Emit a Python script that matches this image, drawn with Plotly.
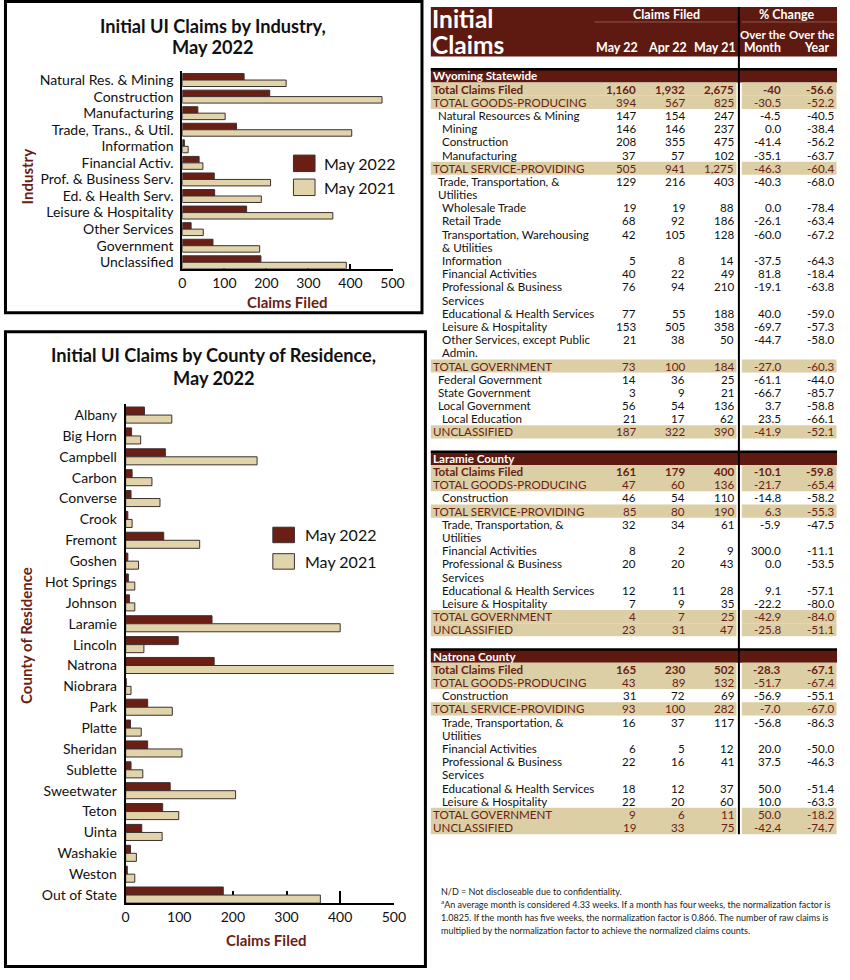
import plotly.graph_objects as go

W, H = 850, 980
def px(x):
    return x / W
def py(y):
    return 1 - y / H

FONT = "Lato"
MAROON = "#6A1E14"
BEIGE = "#E2D4AA"
HEAD = "#5E1A10"
TBEIGE = "#DCCEA5"
TXT_M = "#6A1E14"
OUTL = "#3A3030"

series_names = ["May 2022", "May 2021"]

# ---------------- Industry chart data ----------------
industries = ["Natural Res. & Mining", "Construction", "Manufacturing", "Trade, Trans., & Util.",
              "Information", "Financial Activ.", "Prof. & Business Serv.", "Ed. & Health Serv.",
              "Leisure & Hospitality", "Other Services", "Government", "Unclassified"]
ind_2022 = [147, 208, 37, 129, 5, 40, 76, 77, 153, 21, 73, 187]
ind_2021 = [247, 475, 102, 403, 14, 49, 210, 188, 358, 50, 184, 390]

# ---------------- County chart data ----------------
counties = ["Albany", "Big Horn", "Campbell", "Carbon", "Converse", "Crook", "Fremont", "Goshen",
            "Hot Springs", "Johnson", "Laramie", "Lincoln", "Natrona", "Niobrara", "Park", "Platte",
            "Sheridan", "Sublette", "Sweetwater", "Teton", "Uinta", "Washakie", "Weston", "Out of State"]
cty_2022 = [35, 11, 74, 12, 10, 4, 71, 4, 5, 7, 161, 98, 165, 1, 41, 9, 41, 10, 83, 69, 30, 9, 3, 182]
cty_2021 = [86, 28, 245, 49, 64, 12, 138, 24, 17, 17, 400, 34, 502, 10, 87, 29, 105, 32, 205, 99, 68, 20, 17, 363]

x_ticks = [0, 100, 200, 300, 400, 500]

# ---------------- Table data ----------------
col_heads = ["May 22", "Apr 22", "May 21"]

wy_labels = ["Total Claims Filed", "TOTAL GOODS-PRODUCING", "Natural Resources & Mining", "Mining",
             "Construction", "Manufacturing", "TOTAL SERVICE-PROVIDING", "Trade, Transportation, &\nUtilities",
             "Wholesale Trade", "Retail Trade", "Transportation, Warehousing\n& Utilities", "Information",
             "Financial Activities", "Professional & Business\nServices", "Educational & Health Services",
             "Leisure & Hospitality", "Other Services, except Public\nAdmin.", "TOTAL GOVERNMENT",
             "Federal Government", "State Government", "Local Government", "Local Education", "UNCLASSIFIED"]
wy_may22 = ["1,160", "394", "147", "146", "208", "37", "505", "129", "19", "68", "42", "5", "40", "76", "77",
            "153", "21", "73", "14", "3", "56", "21", "187"]
wy_apr22 = ["1,932", "567", "154", "146", "355", "57", "941", "216", "19", "92", "105", "8", "22", "94", "55",
            "505", "38", "100", "36", "9", "54", "17", "322"]
wy_may21 = ["2,675", "825", "247", "237", "475", "102", "1,275", "403", "88", "186", "128", "14", "49", "210",
            "188", "358", "50", "184", "25", "21", "136", "62", "390"]
wy_month = ["-40", "-30.5", "-4.5", "0.0", "-41.4", "-35.1", "-46.3", "-40.3", "0.0", "-26.1", "-60.0", "-37.5",
            "81.8", "-19.1", "40.0", "-69.7", "-44.7", "-27.0", "-61.1", "-66.7", "3.7", "23.5", "-41.9"]
wy_year = ["-56.6", "-52.2", "-40.5", "-38.4", "-56.2", "-63.7", "-60.4", "-68.0", "-78.4", "-63.4", "-67.2",
           "-64.3", "-18.4", "-63.8", "-59.0", "-57.3", "-58.0", "-60.3", "-44.0", "-85.7", "-58.8", "-66.1", "-52.1"]

co_labels = ["Total Claims Filed", "TOTAL GOODS-PRODUCING", "Construction", "TOTAL SERVICE-PROVIDING",
             "Trade, Transportation, &\nUtilities", "Financial Activities", "Professional & Business\nServices",
             "Educational & Health Services", "Leisure & Hospitality", "TOTAL GOVERNMENT", "UNCLASSIFIED"]

la_may22 = ["161", "47", "46", "85", "32", "8", "20", "12", "7", "4", "23"]
la_apr22 = ["179", "60", "54", "80", "34", "2", "20", "11", "9", "7", "31"]
la_may21 = ["400", "136", "110", "190", "61", "9", "43", "28", "35", "25", "47"]
la_month = ["-10.1", "-21.7", "-14.8", "6.3", "-5.9", "300.0", "0.0", "9.1", "-22.2", "-42.9", "-25.8"]
la_year = ["-59.8", "-65.4", "-58.2", "-55.3", "-47.5", "-11.1", "-53.5", "-57.1", "-80.0", "-84.0", "-51.1"]

na_may22 = ["165", "43", "31", "93", "16", "6", "22", "18", "22", "9", "19"]
na_apr22 = ["230", "89", "72", "100", "37", "5", "16", "12", "20", "6", "33"]
na_may21 = ["502", "132", "69", "282", "117", "12", "41", "37", "60", "11", "75"]
na_month = ["-28.3", "-51.7", "-56.9", "-7.0", "-56.8", "20.0", "37.5", "50.0", "10.0", "50.0", "-42.4"]
na_year = ["-67.1", "-67.4", "-55.1", "-67.0", "-86.3", "-50.0", "-46.3", "-51.4", "-63.3", "-18.2", "-74.7"]

# row styles (T = total, S = subtotal, R = regular) and indent levels
wy_kind = ["T", "S", "R", "R", "R", "R", "S", "R", "R", "R", "R", "R", "R", "R", "R", "R", "R", "S", "R", "R", "R", "R", "S"]
wy_level = [0, 0, 1, 2, 2, 2, 0, 1, 2, 2, 2, 2, 2, 2, 2, 2, 2, 0, 1, 1, 1, 2, 0]
co_kind = ["T", "S", "R", "S", "R", "R", "R", "R", "R", "S", "S"]
co_level = [0, 0, 2, 0, 2, 2, 2, 2, 2, 0, 0]

footnotes = ["N/D = Not discloseable due to confidentiality.",
             "<sup>a</sup>An average month is considered 4.33 weeks. If a month has four weeks, the normalization factor is",
             "1.0825. If the month has five weeks, the normalization factor is 0.866. The number of raw claims is",
             "multiplied by the normalization factor to achieve the normalized claims counts."]

fig = go.Figure()

# ---------------- bars ----------------
def add_pair(cats, v1, v2, xa, ya, w):
    fig.add_trace(go.Bar(y=cats, x=v1, orientation="h", name=series_names[0], xaxis=xa, yaxis=ya,
                         width=w, offset=-w, marker=dict(color=MAROON, line=dict(color=OUTL, width=1)),
                         hoverinfo="x+y"))
    fig.add_trace(go.Bar(y=cats, x=v2, orientation="h", name=series_names[1], xaxis=xa, yaxis=ya,
                         width=w, offset=0, marker=dict(color=BEIGE, line=dict(color=OUTL, width=1)),
                         hoverinfo="x+y"))

add_pair(industries, ind_2022, ind_2021, "x", "y", 0.39)
add_pair(counties, cty_2022, cty_2021, "x2", "y2", 0.385)

axis_common = dict(showline=True, linecolor="black", linewidth=2, showgrid=False, zeroline=False,
                   tickfont=dict(size=14, color="#111", family=FONT), fixedrange=True)

fig.update_layout(
    width=W, height=H, margin=dict(l=0, r=0, t=0, b=0),
    paper_bgcolor="white", plot_bgcolor="rgba(0,0,0,0)", showlegend=False,
    font=dict(family=FONT, color="#111"),
    xaxis=dict(domain=[px(181.7), px(396)], range=[0, 500], tickvals=x_ticks, ticks="inside", ticklen=5,
               tickwidth=1.5, tickcolor="black", anchor="y", layer="below traces", **axis_common),
    yaxis=dict(domain=[py(269), py(71)], type="category", range=[11.39, -0.55], ticks="", anchor="x",
               tickmode="array", tickvals=industries, ticktext=industries,
               ticklabelstandoff=4, **axis_common),
    xaxis2=dict(domain=[px(124), px(397.3)], range=[0, 500], tickvals=x_ticks, ticks="inside", ticklen=12,
                tickwidth=2, tickcolor="black", anchor="y2", layer="below traces", **axis_common),
    yaxis2=dict(domain=[py(904), py(404)], type="category", range=[23.385, -0.55], ticks="", anchor="x2",
                tickmode="array", tickvals=counties, ticktext=counties,
                ticklabelstandoff=4, **axis_common),
)

P = 13.2   # table line pitch (px)
Y0 = 76    # first table line center (px)
fig.update_layout(
    xaxis3=dict(domain=[0, 1], range=[0, W], visible=False, anchor="y3", fixedrange=True),
    yaxis3=dict(domain=[0, 1], range=[(H - Y0) / P, -Y0 / P], visible=False, anchor="x3", fixedrange=True),
)

shapes = []
ann = []

def txt(x, y, s, size, color="#111", bold=False, xanchor="center", angle=0, xref="paper", yref="paper", family=FONT):
    ann.append(dict(x=x, y=y, xref=xref, yref=yref, text=("<b>%s</b>" % s) if bold else s, showarrow=False,
                    xanchor=xanchor, yanchor="middle", textangle=angle, borderpad=0,
                    font=dict(size=size, color=color, family=family)))

# ---------------- chart frames, titles, legends ----------------
shapes.append(dict(type="rect", xref="paper", yref="paper", x0=px(1.5), x1=px(426), y0=py(313), y1=py(1.5),
                   line=dict(color="black", width=3)))
shapes.append(dict(type="rect", xref="paper", yref="paper", x0=px(1.5), x1=px(429.5), y0=py(967.5), y1=py(332),
                   line=dict(color="black", width=3)))

txt(px(213), py(26.5), "Initial UI Claims by Industry,", 18.2, "#111", True)
txt(px(213), py(47), "May 2022", 18.2, "#111", True)
txt(px(214), py(355.5), "Initial UI Claims by County of Residence,", 18.2, "#111", True)
txt(px(214), py(378.5), "May 2022", 18.2, "#111", True)

txt(px(288), py(302), "Claims Filed", 15, TXT_M, True)
txt(px(267), py(941), "Claims Filed", 15, TXT_M, True)
txt(px(23), py(177), "Industry", 15, TXT_M, True, angle=-90)
txt(px(23), py(636), "County of Residence", 15, TXT_M, True, angle=-90)

def legend(x0, ys, h, tx):
    for (yc, name, col) in zip(ys, series_names, [MAROON, BEIGE]):
        shapes.append(dict(type="rect", xref="paper", yref="paper", x0=px(x0), x1=px(x0 + 22),
                           y0=py(yc + h / 2), y1=py(yc - h / 2), fillcolor=col, line=dict(color=OUTL, width=1)))
        txt(px(tx), py(yc), name, 16, "#111", False, xanchor="left")

legend(295, [163.5, 187.5], 16.5, 325)
legend(274, [535.5, 562], 15.5, 306)

# ---------------- table header ----------------
shapes.append(dict(type="rect", xref="paper", yref="paper", x0=px(435), x1=px(849), y0=py(56.5), y1=py(7),
                   fillcolor=HEAD, line=dict(width=0)))
shapes.append(dict(type="line", xref="paper", yref="paper", x0=px(602), x1=px(747), y0=py(22), y1=py(22),
                   line=dict(color="#8E5A50", width=1)))
shapes.append(dict(type="line", xref="paper", yref="paper", x0=px(752), x1=px(849), y0=py(22), y1=py(22),
                   line=dict(color="#8E5A50", width=1)))
txt(px(435), py(18.5), "Initial", 24.5, "white", True, xanchor="left")
txt(px(435), py(45), "Claims", 24.5, "white", True, xanchor="left")
txt(px(675), py(15), "Claims Filed", 12.5, "white", True)
txt(px(798), py(15), "% Change", 12.5, "white", True)
num_right = [644, 694, 744, 791, 845]
for h, xr in zip(col_heads, num_right[:3]):
    txt(px(xr + 3), py(48), h, 12.5, "white", True, xanchor="right")
txt(px(773.5), py(35), "Over the", 11.6, "white", True)
txt(px(773.5), py(48), "Month", 12.3, "white", True)
txt(px(823.5), py(35), "Over the", 11.6, "white", True)
txt(px(828), py(48), "Year", 12.3, "white", True)

# ---------------- table body ----------------
indent = {0: 436.5, 1: 441.5, 2: 445}
TS = 11.6
sections = [
    ("Wyoming Statewide", 0, wy_labels, [wy_may22, wy_apr22, wy_may21, wy_month, wy_year], wy_kind, wy_level),
    ("Laramie County", 29, co_labels, [la_may22, la_apr22, la_may21, la_month, la_year], co_kind, co_level),
    ("Natrona County", 44, co_labels, [na_may22, na_apr22, na_may21, na_month, na_year], co_kind, co_level),
]
last_line = 0
for title, start, labels, cols, kinds, levels in sections:
    shapes.append(dict(type="rect", xref="x3", yref="y3", x0=435, x1=849, y0=start - 0.5, y1=start + 0.5,
                       fillcolor=HEAD, line=dict(width=0), layer="below"))
    shapes.append(dict(type="line", xref="x3", yref="y3", x0=435, x1=849, y0=start - 0.5, y1=start - 0.5,
                       line=dict(color="black", width=2.5)))
    txt(436, start, title, TS, "white", True, xanchor="left", xref="x3", yref="y3")
    ln = start + 1
    for i, lab in enumerate(labels):
        parts = lab.split("\n")
        n = len(parts)
        k = kinds[i]
        if k in ("T", "S"):
            for (a, b) in [(435, 746.5), (752, 848.5)]:
                shapes.append(dict(type="rect", xref="x3", yref="y3", x0=a, x1=b, y0=ln - 0.5, y1=ln + n - 0.5,
                                   fillcolor=TBEIGE, line=dict(width=0), layer="below"))
            color = TXT_M
        else:
            color = "#111"
        bold = (k == "T")
        for j, part in enumerate(parts):
            txt(indent[levels[i]], ln + j, part, TS, color, bold, xanchor="left", xref="x3", yref="y3")
        for col, xr in zip(cols, num_right):
            txt(xr + 1.5, ln, col[i], TS, color, bold, xanchor="right", xref="x3", yref="y3")
        ln += n
    last_line = ln - 1

shapes.append(dict(type="line", xref="x3", yref="paper", x0=749, x1=749, y0=py(Y0 + (last_line + 0.5) * P), y1=py(7),
                   line=dict(color="black", width=2)))

# ---------------- footnotes ----------------
for i, f in enumerate(footnotes):
    txt(px(444), py(892 + i * 13.3), f, 9.0, "#222", False, xanchor="left")

fig.update_layout(shapes=shapes, annotations=ann)
fig.write_html("out.html", post_script="document.body.style.margin='0px';",
               config={"displayModeBar": False})
